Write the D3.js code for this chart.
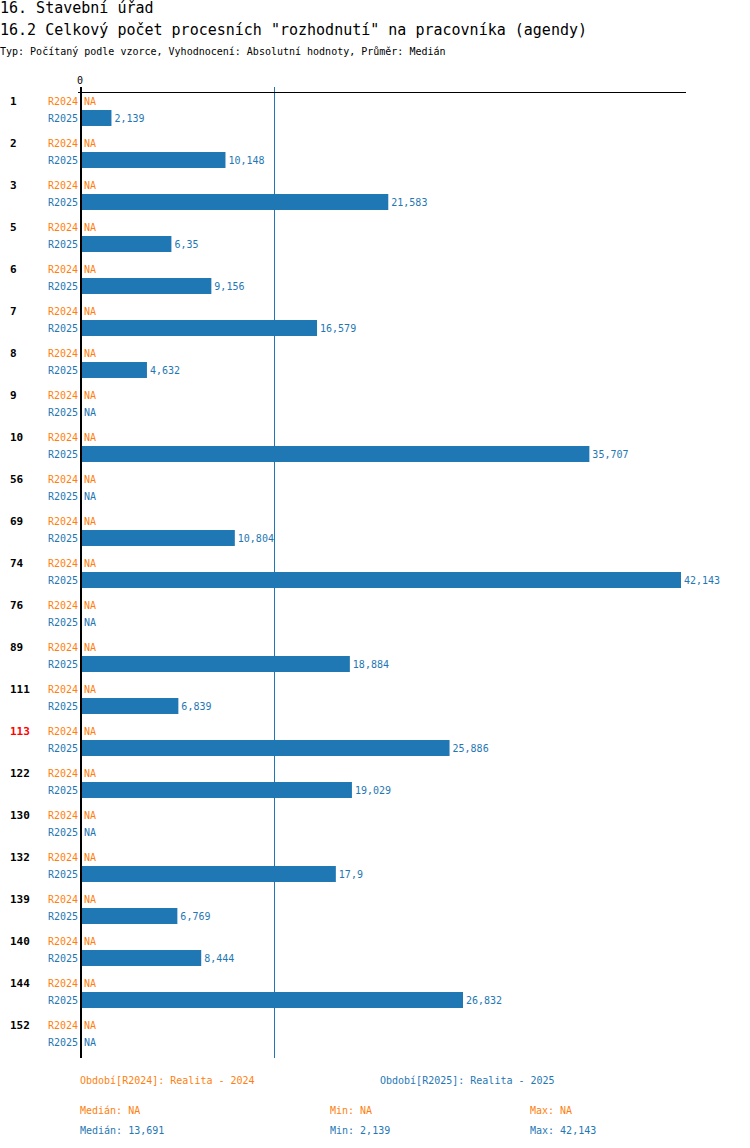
<!DOCTYPE html>
<html>
<head>
<meta charset="utf-8">
<script src="https://cdn.jsdelivr.net/npm/d3@7"></script>
<style>
  body { margin: 0; background: #fff; }
  svg text { font-family: "DejaVu Sans Mono", monospace; }
</style>
</head>
<body>
<svg id="chart"></svg>
<script>
// data
var categories = ["1", "2", "3", "5", "6", "7", "8", "9", "10", "56", "69", "74", "76", "89", "111", "113", "122", "130", "132", "139", "140", "144", "152"];
var highlighted = ["113"];
var series = ["R2024", "R2025"];
var values2024 = [null, null, null, null, null, null, null, null, null, null, null, null, null, null, null, null, null, null, null, null, null, null, null];
var values2025 = [2.139, 10.148, 21.583, 6.35, 9.156, 16.579, 4.632, null, 35.707, null, 10.804, 42.143, null, 18.884, 6.839, 25.886, 19.029, null, 17.9, 6.769, 8.444, 26.832, null];
var legendTexts = ["Období[R2024]: Realita - 2024", "Období[R2025]: Realita - 2025"];
var statLabels = ["Medián", "Min", "Max"];

var width = 750, height = 1148;
var orange = "#ff7f0e", blue = "#1f77b4";
var colors = [orange, blue];

var fmt = function(v) {
    if (v == null) return "NA";
    return (Math.floor(v * 1000 + 1e-6) / 1000).toString().replace(".", ",");
};

var svg = d3.select("#chart")
    .attr("width", width)
    .attr("height", height);

// titles
svg.append("text").attr("x", 0).attr("y", 13).style("font-size", "15px").attr("fill", "#000").text("16. Stavební úřad");
svg.append("text").attr("x", 0).attr("y", 35).style("font-size", "15px").attr("fill", "#000")
    .text("16.2 Celkový počet procesních \"rozhodnutí\" na pracovníka (agendy)");
svg.append("text").attr("x", 0).attr("y", 55).style("font-size", "10px").attr("fill", "#000")
    .text("Typ: Počítaný podle vzorce, Vyhodnocení: Absolutní hodnoty, Průměr: Medián");

var topY = 92, groupStep = 42;
var y = d3.scaleBand()
    .domain(categories)
    .range([topY, topY + groupStep * categories.length]);
var ySub = d3.scaleBand()
    .domain(series)
    .range([0.5, 34.5])
    .paddingInner(0.06)
    .paddingOuter(0.03);

var all = values2025.filter(function(v) { return v != null; });
var x = d3.scaleLinear()
    .domain([0, d3.max(all)])
    .range([81, 681]);

var median2025 = d3.median(all);
var min2025 = d3.min(all);
var max2025 = d3.max(all);

var bottom = 1058;

// median line
var mx = Math.floor(x(median2025)) - 0.5;
svg.append("line")
    .attr("x1", mx).attr("x2", mx)
    .attr("y1", topY - 5).attr("y2", bottom)
    .attr("stroke", blue).attr("stroke-width", 1);

// top axis
svg.append("line")
    .attr("x1", 78).attr("x2", 686)
    .attr("y1", topY + 0.5).attr("y2", topY + 0.5)
    .attr("stroke", "#000").attr("stroke-width", 1);
svg.append("text")
    .attr("x", x(0) - 1).attr("y", 84)
    .attr("text-anchor", "middle")
    .style("font-size", "10px")
    .text(d3.format("d")(x.domain()[0]));

var rows = [];
categories.forEach(function(c, i) {
    rows.push({ cat: c, s: 0, v: values2024[i] });
    rows.push({ cat: c, s: 1, v: values2025[i] });
});

var rowY = function(d) { return y(d.cat) + ySub(series[d.s]); };
var bh = ySub.bandwidth();

// group labels
svg.selectAll(".cat").data(categories).enter().append("text")
    .attr("x", 10)
    .attr("y", function(d) { return y(d) + ySub("R2024") + bh / 2 + 4; })
    .style("font-size", "11px")
    .style("font-weight", "bold")
    .attr("fill", function(d) { return highlighted.indexOf(d) >= 0 ? "#ff0000" : "#000"; })
    .text(function(d) { return d; });

// series labels
svg.selectAll(".ser").data(rows).enter().append("text")
    .attr("x", 78)
    .attr("y", function(d) { return rowY(d) + bh / 2 + 4; })
    .attr("text-anchor", "end")
    .style("font-size", "10px")
    .attr("fill", function(d) { return colors[d.s]; })
    .text(function(d) { return series[d.s]; });

// bars
svg.selectAll(".bar").data(rows.filter(function(d) { return d.v != null; })).enter().append("rect")
    .attr("x", x(0))
    .attr("y", function(d) { return rowY(d); })
    .attr("width", function(d) { return x(d.v) - x(0); })
    .attr("height", bh)
    .attr("fill", function(d) { return colors[d.s]; });

// value labels
svg.selectAll(".val").data(rows).enter().append("text")
    .attr("x", function(d) { return (d.v == null ? x(0) : x(d.v)) + 3; })
    .attr("y", function(d) { return rowY(d) + bh / 2 + 4; })
    .style("font-size", "10px")
    .attr("fill", function(d) { return colors[d.s]; })
    .text(function(d) { return fmt(d.v); });

// zero axis
svg.append("line")
    .attr("x1", 81).attr("x2", 81)
    .attr("y1", topY - 5).attr("y2", bottom)
    .attr("stroke", "#000").attr("stroke-width", 2);

// legend
svg.append("text").attr("x", 80).attr("y", 1084).style("font-size", "10px").attr("fill", orange).text(legendTexts[0]);
svg.append("text").attr("x", 380).attr("y", 1084).style("font-size", "10px").attr("fill", blue).text(legendTexts[1]);

var statX = [80, 330, 530];
var stats2024 = ["NA", "NA", "NA"];
var stats2025 = [fmt(median2025), fmt(min2025), fmt(max2025)];
statLabels.forEach(function(l, i) {
    svg.append("text").attr("x", statX[i]).attr("y", 1114).style("font-size", "10px").attr("fill", orange)
        .text(l + ": " + stats2024[i]);
    svg.append("text").attr("x", statX[i]).attr("y", 1134).style("font-size", "10px").attr("fill", blue)
        .text(l + ": " + stats2025[i]);
});
</script>
</body>
</html>
